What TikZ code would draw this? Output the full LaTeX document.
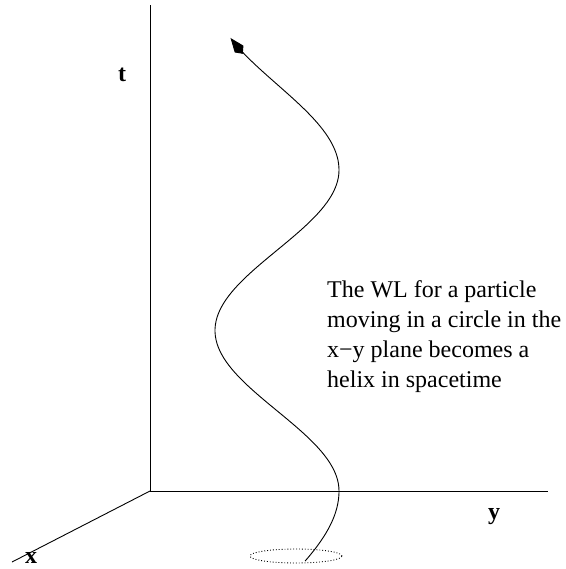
\documentclass[tikz,border=0pt]{standalone}
\usepackage{fontspec}
\setmainfont{Liberation Serif}
\usetikzlibrary{arrows.meta, positioning, shapes.geometric}

\begin{document}
\begin{tikzpicture}[
    x=1pt, y=-1pt,
    >=Stealth,
    % --- styles ---
    axis/.style={draw=black, line width=0.9pt},
    axislabel/.style={font=\fontsize{24}{28}\selectfont\bfseries, inner sep=0pt},
    worldline/.style={draw=black, line width=0.9pt,
        -{Kite[length=20pt, width=11pt, inset=6pt]}},
    orbit/.style={draw=black, line width=0.9pt, dotted},
    caption/.style={font=\fontsize{24}{30}\selectfont, align=left,
        inner sep=0pt, anchor=north west},
]
\useasboundingbox (0,0) rectangle (565,569);

% ===== AXES =====
\coordinate (origin) at (150,491);
\coordinate (tend) at (150,5);
\coordinate (yend) at (548,491);
\coordinate (xend) at (12,562);
\draw[axis] (origin) -- (tend);
\draw[axis] (origin) -- (yend);
\draw[axis] (origin) -- (xend);

\node[axislabel] (tlab) at (122,75) {t};
\node[axislabel] (ylab) at (494,517) {y};
\node[axislabel] (xlab) at (31,558) {x};

% ===== CIRCULAR ORBIT (x-y plane) =====
\node[orbit, ellipse, minimum width=92pt, minimum height=14pt,
      inner sep=0pt] (circ) at (296,556) {};

% ===== WORLD LINE (helix) =====
\draw[worldline]
    plot[domain=561:491, samples=30] ({277+62*cos(0.9*(491-\x))}, \x)
    -- plot[domain=491:170, samples=90] ({277+62*cos(1.1215*(491-\x))}, \x)
    -- plot[domain=170:38, samples=40] ({277+62*cos(1.05*(170-\x))}, \x);

% ===== CAPTION =====
\node[caption] (note) at (327,280)
    {The WL for a particle\\moving in a circle in the\\x−y plane becomes a\\helix in spacetime};

\end{tikzpicture}
\end{document}
